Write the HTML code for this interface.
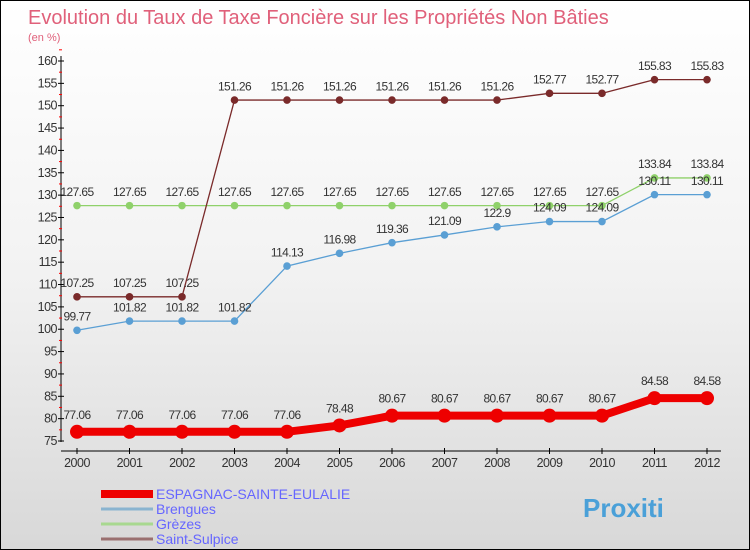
<!DOCTYPE html>
<html><head><meta charset="utf-8"><style>
body{margin:0}
#wrap{width:748px;height:548px;border:1px solid #000;background:linear-gradient(#fff,#f2f2f2 50%,#d8d8d8);position:relative;overflow:hidden}
svg{position:absolute;left:0;top:0;font-family:"Liberation Sans",sans-serif}
</style></head><body>
<div id="wrap">
<svg id="c" width="750" height="550">
<text x="27" y="23" font-size="20" fill="#e0607a">Evolution du Taux de Taxe Foncière sur les Propriétés Non Bâties</text>
<text x="27" y="40" font-size="11" fill="#e0607a">(en %)</text>
</svg>
</div>
<script>
const years=[2000,2001,2002,2003,2004,2005,2006,2007,2008,2009,2010,2011,2012];
const yTicks=[75,80,85,90,95,100,105,110,115,120,125,130,135,140,145,150,155,160];
const espagnac=[77.06,77.06,77.06,77.06,77.06,78.48,80.67,80.67,80.67,80.67,80.67,84.58,84.58];
const brengues=[99.77,101.82,101.82,101.82,114.13,116.98,119.36,121.09,122.9,124.09,124.09,130.11,130.11];
const grezes=[127.65,127.65,127.65,127.65,127.65,127.65,127.65,127.65,127.65,127.65,127.65,133.84,133.84];
const stsulpice=[107.25,107.25,107.25,151.26,151.26,151.26,151.26,151.26,151.26,152.77,152.77,155.83,155.83];
const svg=document.getElementById('c');const NS='http://www.w3.org/2000/svg';
const X=i=>76+i*52.5;const Y=v=>440-(v-75)*380/85;
function mk(t,a,txt){const e=document.createElementNS(NS,t);for(const k in a)e.setAttribute(k,a[k]);if(txt!==undefined)e.textContent=txt;svg.appendChild(e);return e;}
let e=mk('line',{x1:60,y1:55,x2:60,y2:441,stroke:'#000'});


e=mk('line',{x1:60,y1:450,x2:720,y2:450,stroke:'#000'});


yTicks.forEach(v=>{mk('line',{x1:57,y1:Y(v),x2:63,y2:Y(v),stroke:'#000'});
 mk('line',{x1:58,y1:Y(v+2.5),x2:61,y2:Y(v+2.5),stroke:'#f00'});
 e=mk('text',{x:56,y:Y(v)+4,'font-size':12.5,fill:'#333','text-anchor':'end','letter-spacing':'-0.5'},v);
 
 });
years.forEach((y,i)=>{mk('line',{x1:X(i),y1:447,x2:X(i),y2:453,stroke:'#000'});
 e=mk('text',{x:X(i),y:466,'font-size':12.5,fill:'#333','text-anchor':'middle','letter-spacing':'-0.5'},y);
 
 });
function series(d,col,w,r,name){
 e=mk('polyline',{points:d.map((v,i)=>X(i)+','+Y(v)).join(' '),fill:'none',stroke:col,'stroke-width':w});
 
 
 d.forEach((v,i)=>{e=mk('circle',{cx:X(i),cy:Y(v),r:r,fill:col});
  
  
  e=mk('text',{x:X(i),y:Y(v)-(r+6),'font-size':12,fill:'#333','text-anchor':'middle','letter-spacing':'-0.6'},String(v));
  
  });
}
series(grezes,'#8fd16a',1.3,3.8,'grezes');
series(brengues,'#5a9fd4',1.3,3.8,'brengues');
series(stsulpice,'#7a2a2a',1.3,3.8,'saint-sulpice');
series(espagnac,'#ee0000',8,7,'espagnac');
const leg=[['ESPAGNAC-SAINTE-EULALIE','#ee0000',8],['Brengues','#8ab4d0',3],['Grèzes','#a8d890',3],['Saint-Sulpice','#9a7070',3]];
leg.forEach((l,i)=>{const y=493+i*15;
 e=mk('line',{x1:100,y1:y,x2:152,y2:y,stroke:l[1],'stroke-width':l[2]});
 
 
 e=mk('text',{x:155,y:y+5,'font-size':14,fill:'#6666ff'},l[0]);
 
 });
e=mk('text',{x:582,y:516,'font-size':26,'font-weight':'bold',fill:'#4aa0d8'},'Proxiti');


</script>
</body></html>
